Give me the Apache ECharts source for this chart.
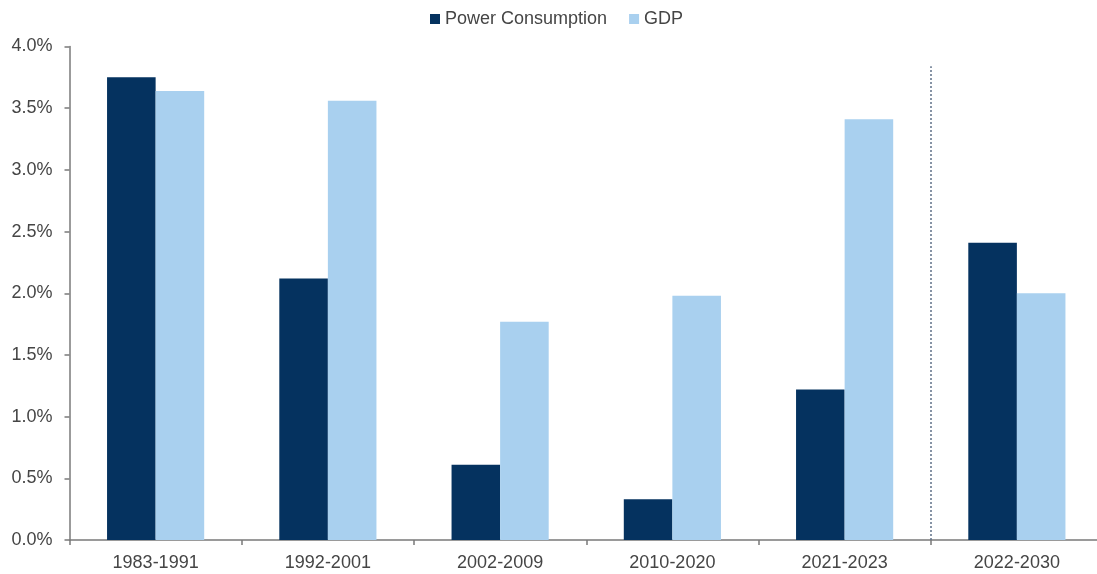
<!DOCTYPE html>
<html>
<head>
<meta charset="utf-8">
<script src="https://cdn.jsdelivr.net/npm/echarts@6/dist/echarts.min.js"></script>
<style>
  html, body { margin: 0; padding: 0; background: #fff; overflow: hidden; }
  /* the last category runs slightly past the right edge of the window */
  #chart { width: 1103px; height: 574px; }
</style>
</head>
<body>
<div id="chart"></div>
<script>
// Period labels along the x axis
const periods = ['1983-1991', '1992-2001', '2002-2009', '2010-2020', '2021-2023', '2022-2030'];
// Average annual growth, percent
const powerConsumption = [3.75, 2.12, 0.61, 0.33, 1.22, 2.41];
const gdp = [3.64, 3.56, 1.77, 1.98, 3.41, 2.00];
// Y axis range and step (percent)
const yMin = 0, yMax = 4, yStep = 0.5;
// Divider between historical periods and the projection
const dividerPos = 5;
const dividerTop = 3.84;

const textColor = '#454545';
const axisColor = '#7a7a7a';
const font = 'Liberation Sans, Arial, sans-serif';

const chart = echarts.init(document.getElementById('chart'));
chart.setOption({
  animation: false,
  backgroundColor: '#ffffff',
  textStyle: { fontFamily: font },
  legend: {
    left: 425,
    top: 5,
    icon: 'rect',
    itemWidth: 10,
    itemHeight: 10,
    itemGap: 22,
    data: ['Power Consumption', 'GDP'],
    textStyle: { fontSize: 18, color: textColor, fontFamily: font }
  },
  grid: { left: 69.5, top: 46.5, right: 0, bottom: 34, containLabel: false },
  xAxis: [
    {
      type: 'category',
      data: periods,
      boundaryGap: true,
      axisLine: { show: true, lineStyle: { color: axisColor, width: 1.5 } },
      axisTick: { show: true, inside: false, length: 5, lineStyle: { color: axisColor, width: 1.5 } },
      axisLabel: { fontSize: 18, color: textColor, margin: 14, fontFamily: font },
      splitLine: { show: false }
    },
    {
      type: 'value',
      min: 0,
      max: periods.length,
      show: false
    }
  ],
  yAxis: {
    type: 'value',
    min: yMin,
    max: yMax,
    interval: yStep,
    axisLine: { show: true, lineStyle: { color: axisColor, width: 1.5 } },
    axisTick: { show: true, inside: false, length: 5, lineStyle: { color: axisColor, width: 1.5 } },
    axisLabel: {
      fontSize: 18, color: textColor, margin: 17, fontFamily: font,
      formatter: v => v.toFixed(1) + '%'
    },
    splitLine: { show: false }
  },
  series: [
    {
      name: 'Power Consumption',
      type: 'bar',
      data: powerConsumption,
      barGap: '0%',
      barCategoryGap: '43.6%',
      itemStyle: { color: '#05325f' }
    },
    {
      name: 'GDP',
      type: 'bar',
      data: gdp,
      barGap: '0%',
      barCategoryGap: '43.6%',
      itemStyle: { color: '#a9d0ef' }
    },
    {
      name: 'divider',
      type: 'line',
      xAxisIndex: 1,
      yAxisIndex: 0,
      data: [],
      silent: true,
      markLine: {
        silent: true,
        symbol: 'none',
        label: { show: false },
        lineStyle: { color: '#5f7088', type: [2, 2], width: 1.5 },
        data: [[{ coord: [dividerPos, yMin] }, { coord: [dividerPos, dividerTop] }]]
      }
    }
  ]
});
</script>
</body>
</html>
